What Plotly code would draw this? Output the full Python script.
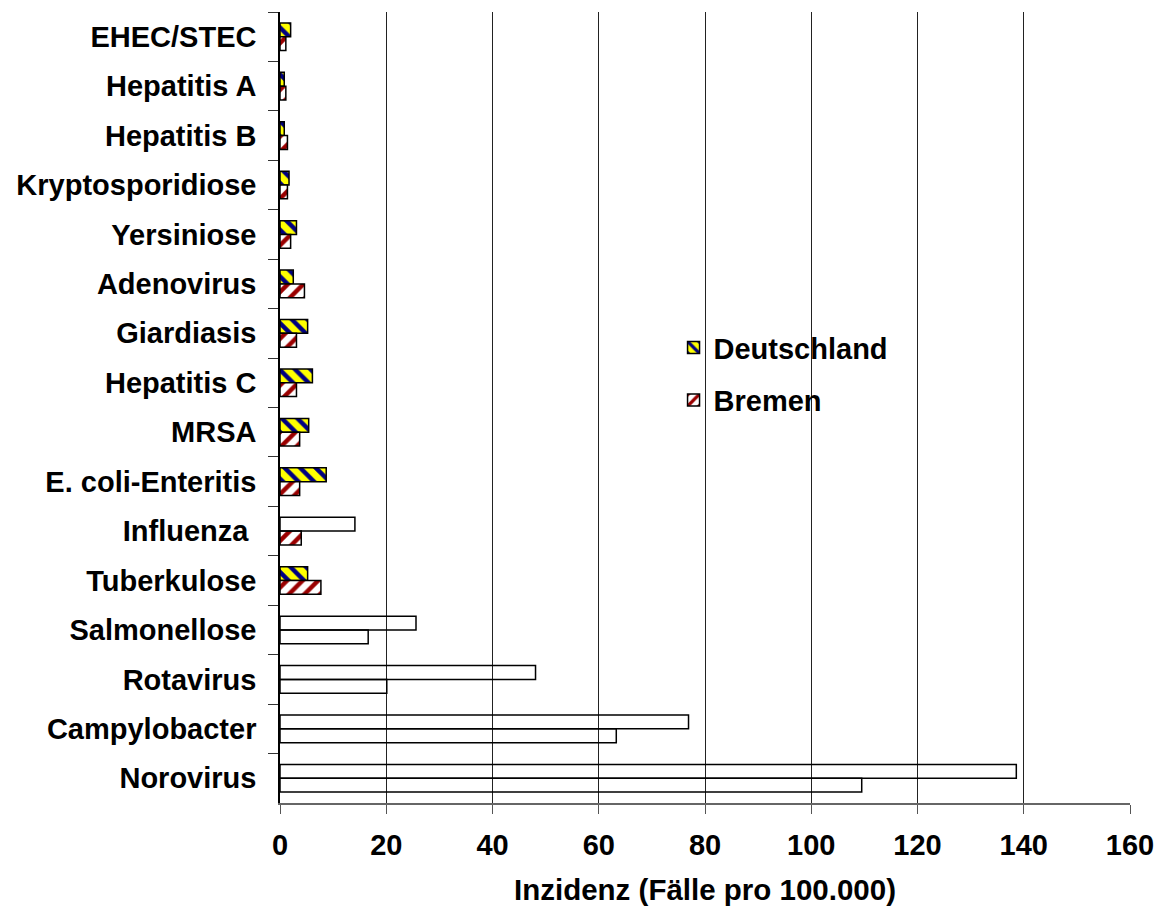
import plotly.graph_objects as go

# Meldepflichtige Infektionen: Inzidenz je 100.000 Einwohner
categories = [
    "EHEC/STEC", "Hepatitis A", "Hepatitis B", "Kryptosporidiose", "Yersiniose",
    "Adenovirus", "Giardiasis", "Hepatitis C", "MRSA", "E. coli-Enteritis",
    "Influenza\u00a0", "Tuberkulose", "Salmonellose", "Rotavirus", "Campylobacter",
    "Norovirus",
]
deutschland = [2.0, 0.8, 0.8, 1.7, 3.1, 2.5, 5.2, 6.1, 5.4, 8.7,
               14.1, 5.2, 25.6, 48.1, 76.9, 138.6]
bremen = [1.1, 1.1, 1.4, 1.4, 2.0, 4.6, 3.1, 3.1, 3.7, 3.7,
          4.0, 7.7, 16.6, 20.1, 63.3, 109.5]
# Balken ohne Schraffur (große Werte bzw. Influenza bundesweit)
plain_de = [False] * 10 + [True, False, True, True, True, True]
plain_hb = [False] * 12 + [True, True, True, True]
x_ticks = [0, 20, 40, 60, 80, 100, 120, 140, 160]

FONT = "Arial, Liberation Sans, sans-serif"
FS = 29
YELLOW, NAVY = "#FFFF00", "#000080"
DARKRED = "#9A0000"
CLEAR = "rgba(0,0,0,0)"
OUTLINE = dict(color="black", width=1.5)
BOLD = dict(family=FONT, size=FS, color="black", weight="bold")


def split(values, plain):
    """Return (hatched, plain) value lists; gaps are None."""
    hatched = [None if p else v for v, p in zip(values, plain)]
    empty = [v if p else None for v, p in zip(values, plain)]
    return hatched, empty


de_hatch, de_plain = split(deutschland, plain_de)
hb_hatch, hb_plain = split(bremen, plain_hb)

fig = go.Figure()
fig.add_trace(go.Bar(
    name="Deutschland", y=categories, x=de_hatch, orientation="h",
    offsetgroup="de", legendgroup="de",
    marker=dict(color=YELLOW, line=OUTLINE,
                pattern=dict(shape="\\", fgcolor=NAVY, bgcolor=YELLOW,
                             fgopacity=1, size=11, solidity=0.4)),
))
fig.add_trace(go.Bar(
    name="Bremen", y=categories, x=hb_hatch, orientation="h",
    offsetgroup="hb", legendgroup="hb",
    marker=dict(color="white", line=OUTLINE,
                pattern=dict(shape="/", fgcolor=DARKRED, bgcolor="white",
                             fgopacity=1, size=11, solidity=0.4)),
))
fig.add_trace(go.Bar(
    name="Deutschland", y=categories, x=de_plain, orientation="h",
    offsetgroup="de", legendgroup="de", showlegend=False,
    marker=dict(color=CLEAR, line=OUTLINE),
))
fig.add_trace(go.Bar(
    name="Bremen", y=categories, x=hb_plain, orientation="h",
    offsetgroup="hb", legendgroup="hb", showlegend=False,
    marker=dict(color=CLEAR, line=OUTLINE),
))

fig.update_layout(
    width=1166, height=908,
    margin=dict(l=280, r=36, t=12, b=105),
    paper_bgcolor="white", plot_bgcolor="white",
    barmode="group", bargap=0.44, bargroupgap=0,
    font=BOLD,
    legend=dict(
        x=0.463, y=0.608, xanchor="left", yanchor="top",
        font=BOLD, traceorder="grouped", tracegroupgap=12,
        bgcolor=CLEAR, borderwidth=0,
    ),
    xaxis=dict(
        range=[0, 160], tickvals=x_ticks, ticks="outside", ticklen=9,
        tickcolor="#555", showgrid=True, gridcolor="#222", gridwidth=1.2,
        showline=True, linecolor="#666", linewidth=1.5, zeroline=False,
        ticklabelstandoff=6, tickfont=BOLD,
    ),
    yaxis=dict(
        autorange="reversed", ticks="outside", tickson="boundaries",
        ticklen=10, tickcolor="#333", showline=True, linecolor="black",
        linewidth=1.5, showgrid=False, ticklabelstandoff=16, tickfont=BOLD,
    ),
    annotations=[dict(
        text="Inzidenz (Fälle pro 100.000)", xref="paper", yref="paper",
        x=0.5, y=-0.109, xanchor="center", yanchor="middle", showarrow=False,
        font=dict(family=FONT, size=29.5, color="black", weight="bold"),
    )],
)

fig.write_html("out.html")
